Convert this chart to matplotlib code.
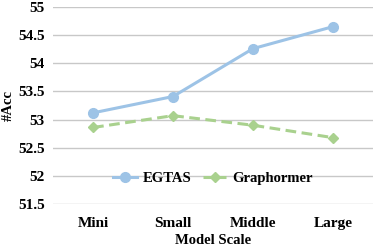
import numpy as np
import matplotlib.pyplot as plt

plt.rcParams['font.family'] = ['Liberation Serif', 'DejaVu Serif']
plt.rcParams['font.weight'] = 'bold'

labels = ['Mini', 'Small', 'Middle', 'Large']
egtas = [53.12, 53.41, 54.26, 54.65]
graphormer = [52.86, 53.07, 52.90, 52.68]

x = np.arange(len(labels))
fig = plt.figure(figsize=(3.74, 2.48), dpi=100)
ax = fig.add_axes([0.142, 0.177, 0.855, 0.795])

ax.plot(x, egtas, color='#9DC3E6', lw=2.2, marker='o', ms=7, label='EGTAS', zorder=3)
ax.plot(x, graphormer, color='#A9D18E', lw=2.2, ls=(0, (3.5, 1.8)), marker='D', ms=5,
        label='Graphormer', zorder=3)

ax.set_xlim(-0.5, 3.5)
ax.set_ylim(51.5, 55)
ax.set_yticks(np.arange(51.5, 55.01, 0.5))
ax.set_yticklabels(['51.5', '52', '52.5', '53', '53.5', '54', '54.5', '55'])
ax.set_xticks(x)
ax.set_xticklabels(labels)
ax.grid(axis='y', color='#C8C8C8', lw=1)
ax.set_axisbelow(True)
for s in ax.spines.values():
    s.set_visible(False)
ax.tick_params(length=0, labelsize=11, pad=6)
ax.tick_params(axis='x', pad=9)
ax.set_ylabel('#Acc', fontsize=10.5, fontweight='bold', labelpad=2)
ax.set_xlabel('Model Scale', fontsize=10.5, fontweight='bold', labelpad=3.5)
ax.legend(loc='lower center', bbox_to_anchor=(0.5, 0.03), ncol=2, frameon=False,
          fontsize=10.5, handlelength=1.6, columnspacing=0.8, handletextpad=0.4)

plt.savefig('out.png', dpi=100)
